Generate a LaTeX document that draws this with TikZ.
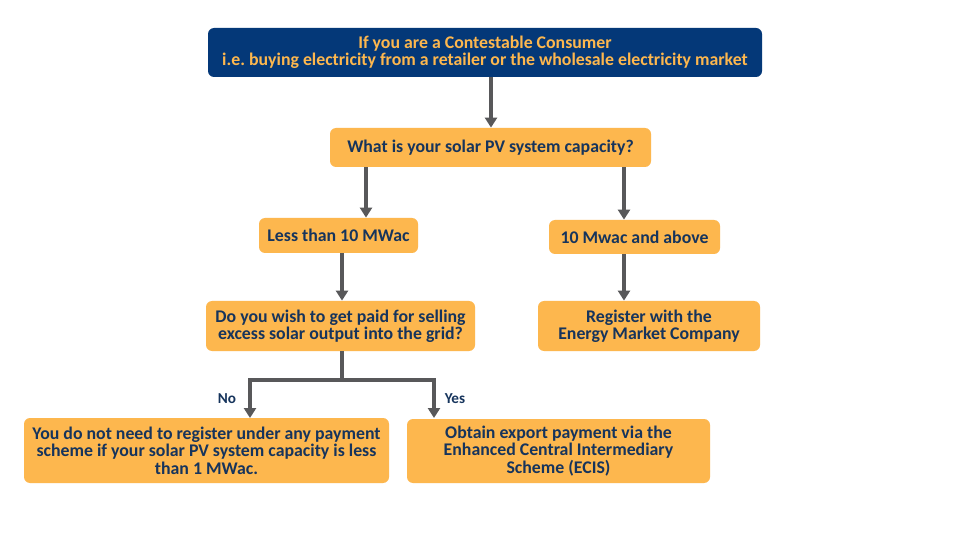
\documentclass[tikz,border=0pt]{standalone}
\usepackage{fontspec}
\setmainfont{Carlito}
\usetikzlibrary{arrows.meta,positioning,calc}
\definecolor{EmcNavy}{RGB}{4,56,120}
\definecolor{EmcInk}{RGB}{22,52,92}
\definecolor{EmcOrange}{RGB}{253,183,78}
\definecolor{EmcGray}{RGB}{88,88,90}
\tikzset{
  emc/navybox/.style={
    fill=EmcNavy,
    rounded corners=3pt,
    align=center,
    text=EmcOrange,
    inner sep=2pt,
    font=\fontsize{8.9}{8.7}\selectfont\bfseries
  },
  emc/box/.style={
    fill=EmcOrange,
    rounded corners=3pt,
    align=center,
    text=EmcInk,
    inner sep=2pt,
    font=\fontsize{8.9}{8.7}\selectfont\bfseries
  },
  emc/arrow/.style={-{Triangle[length=5pt,width=6pt]}, line width=2pt, draw=EmcGray},
  emc/line/.style={line width=2pt, draw=EmcGray},
  emc/label/.style={font=\fontsize{7.6}{8}\selectfont\bfseries, text=EmcInk}
}
\begin{document}
\frenchspacing
\begin{tikzpicture}[x=0.5pt,y=-0.5pt]
  \useasboundingbox[fill=white] (0,0) rectangle (960,540);
  % boxes
  \node[emc/navybox,minimum width=277pt,minimum height=24.5pt] (consumer) at (485,52.5)
    {If you are a Contestable Consumer\\i.e. buying electricity from a retailer or the wholesale electricity market};
  \node[emc/box,minimum width=160.5pt,minimum height=19.5pt] (capacity) at (490.5,147.5)
    {What is your solar PV system capacity?};
  \node[emc/box,minimum width=79.5pt,minimum height=17.5pt] (less) at (338.5,235.5)
    {Less than 10 MWac};
  \node[emc/box,minimum width=85.5pt,minimum height=17pt] (above) at (634.5,237)
    {10 Mwac and above};
  \node[emc/box,minimum width=134.5pt,minimum height=25pt] (paid) at (340.5,326)
    {Do you wish to get paid for selling\\excess solar output into the grid?};
  \node[emc/box,minimum width=111pt,minimum height=25pt] (register) at (649,326)
    {Register with the\\Energy Market Company};
  \node[emc/box,minimum width=182.5pt,minimum height=32.5pt] (noneed) at (206.5,450.5)
    {You do not need to register under any payment\\scheme if your solar PV system capacity is less\\than 1 MWac.};
  \node[emc/box,minimum width=151.5pt,minimum height=32pt] (ecis) at (558.5,451)
    {Obtain export payment via the\\Enhanced Central Intermediary\\Scheme (ECIS)};
  % connectors
  \coordinate (split) at (342,380);
  \coordinate (noend) at (250,418);
  \coordinate (yesend) at (434,418);
  \draw[emc/arrow] (consumer.south -| 491,0) -- (capacity.north -| 491,0);
  \draw[emc/arrow] (capacity.south -| 366,0) -- (less.north -| 366,0);
  \draw[emc/arrow] (capacity.south -| 624,0) -- (above.north -| 624,0);
  \draw[emc/arrow] (less.south -| 342,0) -- (paid.north -| 342,0);
  \draw[emc/arrow] (above.south -| 624,0) -- (register.north -| 624,0);
  \draw[emc/line] (paid.south -| split) -- (split);
  \draw[emc/arrow] (split) -| (noend);
  \draw[emc/arrow] (split) -| (yesend);
  \node[emc/label] (nolabel) at (227,399) {No};
  \node[emc/label] (yeslabel) at (455,399) {Yes};
\end{tikzpicture}
\end{document}
